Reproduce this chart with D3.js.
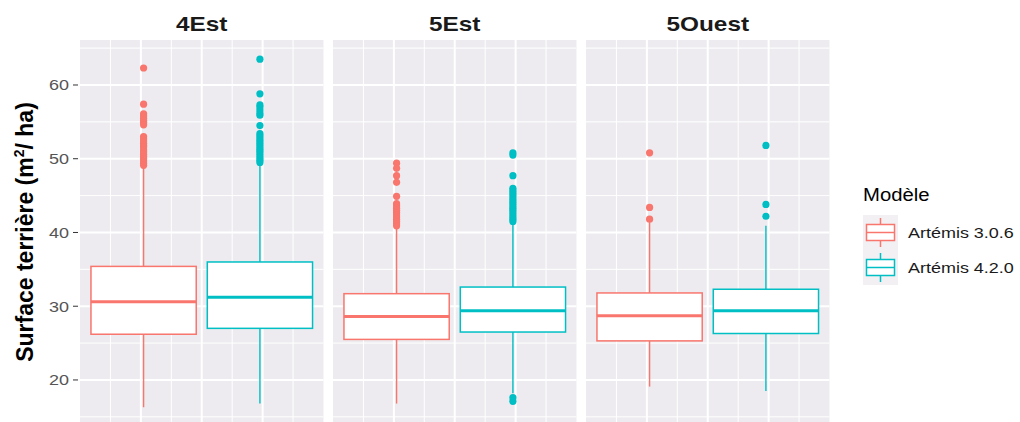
<!DOCTYPE html>
<html>
<head>
<meta charset="utf-8">
<script src="https://cdn.jsdelivr.net/npm/d3@7"></script>
<style>
  body { margin: 0; background: #ffffff; }
  text { font-family: "Liberation Sans", Arial, sans-serif; }
</style>
</head>
<body>
<div class="container"></div>
<script>
var regions = ['4Est', '5Est', '5Ouest'];
var models = ['Artémis 3.0.6', 'Artémis 4.2.0'];
var yTicks = [20, 30, 40, 50, 60];
var yMinorTicks = [15, 25, 35, 45, 55, 65];

// Artémis 3.0.6, one value per region
var lower306 = [16.3, 16.8, 19.1];
var q1_306 = [26.2, 25.5, 25.3];
var median306 = [30.6, 28.6, 28.7];
var q3_306 = [35.4, 31.7, 31.8];
var upper306 = [49.0, 40.6, 41.4];
var outliers306 = [
    [62.3, 57.4, 56.1, 55.8, 55.5, 55.2, 54.9, 54.6, 53.0, 52.7, 52.4, 52.1, 51.8, 51.6,
     51.2, 50.9, 50.6, 50.3, 50.0, 49.7, 49.4, 49.1],
    [49.4, 48.7, 47.7, 46.8, 44.9, 43.9, 43.6, 43.3, 43.0, 42.7, 42.4, 42.1, 41.8, 41.5, 41.2, 40.9],
    [50.8, 43.4, 41.8]
];

// Artémis 4.2.0, one value per region
var lower420 = [16.8, 18.2, 18.5];
var q1_420 = [27.0, 26.5, 26.3];
var median420 = [31.2, 29.4, 29.4];
var q3_420 = [36.0, 32.6, 32.3];
var upper420 = [49.4, 41.3, 40.9];
var outliers420 = [
    [63.5, 58.8, 57.3, 57.0, 56.6, 56.2, 55.9, 54.5, 53.4, 53.1, 52.8, 52.5, 52.2, 51.9,
     51.6, 51.3, 51.0, 50.7, 50.4, 50.1, 49.8, 49.5],
    [50.8, 50.5, 47.7, 46.0, 45.7, 45.4, 45.1, 44.8, 44.5, 44.2, 43.9, 43.6, 43.3, 43.0,
     42.7, 42.4, 42.1, 41.8, 41.5, 17.6, 17.1],
    [51.8, 43.8, 42.2]
];

var colors = ['#F8766D', '#00BFC4'];
var PANEL_BG = '#EDEBEF';
var STRETCH = 1.16;

var buildBoxes = function () {
    var stats = [
        {lower: lower306, q1: q1_306, median: median306, q3: q3_306, upper: upper306, out: outliers306},
        {lower: lower420, q1: q1_420, median: median420, q3: q3_420, upper: upper420, out: outliers420}
    ];
    var boxes = [];
    regions.forEach(function (region, i) {
        models.forEach(function (model, j) {
            var s = stats[j];
            boxes.push({
                region: region, model: model, color: colors[j],
                lower: s.lower[i], q1: s.q1[i], median: s.median[i], q3: s.q3[i], upper: s.upper[i],
                outliers: s.out[i]
            });
        });
    });
    return boxes;
};

var drawChart = function () {
    const WIDTH = 1020;
    const HEIGHT = 422;
    const TOP = 40;

    var svg = d3.select('.container').append('svg')
        .attr('width', WIDTH)
        .attr('height', HEIGHT);

    var panelScale = d3.scaleBand()
        .domain(regions)
        .range([80, 829.5])
        .paddingInner(0.0375)
        .paddingOuter(0);

    var xScale = d3.scaleLinear().domain([-2, 2]).range([0, panelScale.bandwidth()]);
    var modelScale = d3.scaleBand().domain(models).range([-1.82, 1.82]).paddingInner(0.095);
    var yScale = d3.scaleLinear().domain([14.3, 66.1]).range([HEIGHT, TOP]);

    var boxes = buildBoxes();

    var panels = svg.selectAll('g.panel')
        .data(regions)
        .enter()
        .append('g')
        .classed('panel', true)
        .attr('transform', function (d) { return 'translate(' + panelScale(d) + ',0)'; });

    panels.append('rect')
        .attr('x', 0)
        .attr('y', TOP)
        .attr('width', panelScale.bandwidth())
        .attr('height', HEIGHT - TOP)
        .attr('fill', PANEL_BG);

    // grid lines
    panels.selectAll('line.hminor')
        .data(yMinorTicks)
        .enter()
        .append('line')
        .attr('x1', 0).attr('x2', panelScale.bandwidth())
        .attr('y1', function (d) { return yScale(d); })
        .attr('y2', function (d) { return yScale(d); })
        .attr('stroke', '#fff').attr('stroke-width', 1);

    panels.selectAll('line.hmajor')
        .data(yTicks)
        .enter()
        .append('line')
        .attr('x1', 0).attr('x2', panelScale.bandwidth())
        .attr('y1', function (d) { return yScale(d); })
        .attr('y2', function (d) { return yScale(d); })
        .attr('stroke', '#fff').attr('stroke-width', 2);

    panels.selectAll('line.vminor')
        .data([-1.5, -0.5, 0.5, 1.5])
        .enter()
        .append('line')
        .attr('x1', function (d) { return xScale(d); })
        .attr('x2', function (d) { return xScale(d); })
        .attr('y1', TOP).attr('y2', HEIGHT)
        .attr('stroke', '#fff').attr('stroke-width', 1);

    panels.selectAll('line.vmajor')
        .data([-1, 0, 1])
        .enter()
        .append('line')
        .attr('x1', function (d) { return xScale(d); })
        .attr('x2', function (d) { return xScale(d); })
        .attr('y1', TOP).attr('y2', HEIGHT)
        .attr('stroke', '#fff').attr('stroke-width', 2);

    // strip titles
    panels.append('text')
        .attr('transform', 'translate(' + (panelScale.bandwidth() / 2) + ',31) scale(' + STRETCH + ',1)')
        .attr('text-anchor', 'middle')
        .attr('font-size', 21)
        .attr('font-weight', 'bold')
        .attr('fill', '#1a1a1a')
        .text(function (d) { return d; });

    // boxes
    var g = svg.selectAll('g.box')
        .data(boxes)
        .enter()
        .append('g')
        .classed('box', true)
        .attr('transform', function (d) {
            var cx = panelScale(d.region) + xScale(modelScale(d.model) + modelScale.bandwidth() / 2);
            return 'translate(' + cx + ',0)';
        });

    var half = (xScale(modelScale.bandwidth()) - xScale(0)) / 2;

    g.append('line')
        .attr('x1', 0).attr('x2', 0)
        .attr('y1', function (d) { return yScale(d.upper); })
        .attr('y2', function (d) { return yScale(d.q3); })
        .attr('stroke', function (d) { return d.color; })
        .attr('stroke-width', 1.4);

    g.append('line')
        .attr('x1', 0).attr('x2', 0)
        .attr('y1', function (d) { return yScale(d.q1); })
        .attr('y2', function (d) { return yScale(d.lower); })
        .attr('stroke', function (d) { return d.color; })
        .attr('stroke-width', 1.4);

    g.append('rect')
        .attr('x', -half)
        .attr('width', half * 2)
        .attr('y', function (d) { return yScale(d.q3); })
        .attr('height', function (d) { return yScale(d.q1) - yScale(d.q3); })
        .attr('fill', '#fff')
        .attr('stroke', function (d) { return d.color; })
        .attr('stroke-width', 1.5);

    g.append('line')
        .attr('x1', -half).attr('x2', half)
        .attr('y1', function (d) { return yScale(d.median); })
        .attr('y2', function (d) { return yScale(d.median); })
        .attr('stroke', function (d) { return d.color; })
        .attr('stroke-width', 3);

    g.selectAll('circle')
        .data(function (d) { return d.outliers.map(function (v) { return {v: v, color: d.color}; }); })
        .enter()
        .append('circle')
        .attr('cx', 0)
        .attr('cy', function (d) { return yScale(d.v); })
        .attr('r', 3.6)
        .attr('fill', function (d) { return d.color; });

    // y axis
    var axis = svg.append('g');
    axis.selectAll('line')
        .data(yTicks)
        .enter()
        .append('line')
        .attr('x1', 73).attr('x2', 78)
        .attr('y1', function (d) { return yScale(d); })
        .attr('y2', function (d) { return yScale(d); })
        .attr('stroke', '#333').attr('stroke-width', 1);

    axis.selectAll('text')
        .data(yTicks)
        .enter()
        .append('text')
        .attr('transform', function (d) { return 'translate(69,' + (yScale(d) + 5.5) + ') scale(' + STRETCH + ',1)'; })
        .attr('text-anchor', 'end')
        .attr('font-size', 15.5)
        .attr('fill', '#555')
        .text(function (d) { return d; });

    var title = svg.append('text')
        .attr('transform', 'translate(33,232) rotate(-90)')
        .attr('text-anchor', 'middle')
        .attr('font-size', 23)
        .attr('font-weight', 'bold')
        .attr('fill', '#000');
    title.append('tspan').text('Surface terrière (m');
    title.append('tspan').attr('font-size', 14).attr('dy', -9).text('2');
    title.append('tspan').attr('dy', 9).text('/ ha)');

    // legend
    var legend = svg.append('g').attr('transform', 'translate(863,0)');
    legend.append('text')
        .attr('transform', 'translate(0,201) scale(' + STRETCH + ',1)')
        .attr('font-size', 17.5)
        .attr('fill', '#000')
        .text('Modèle');

    var keys = legend.selectAll('g.key')
        .data(models)
        .enter()
        .append('g')
        .classed('key', true)
        .attr('transform', function (d, i) { return 'translate(0,' + (215 + i * 35) + ')'; });

    keys.append('rect')
        .attr('width', 35).attr('height', 35)
        .attr('fill', '#F2F0F3');
    keys.append('line')
        .attr('x1', 17.5).attr('x2', 17.5).attr('y1', 3).attr('y2', 32)
        .attr('stroke', function (d, i) { return colors[i]; }).attr('stroke-width', 1.5);
    keys.append('rect')
        .attr('x', 3.5).attr('y', 9.5).attr('width', 28).attr('height', 16)
        .attr('fill', '#fff')
        .attr('stroke', function (d, i) { return colors[i]; }).attr('stroke-width', 1.5);
    keys.append('line')
        .attr('x1', 3.5).attr('x2', 31.5).attr('y1', 17.5).attr('y2', 17.5)
        .attr('stroke', function (d, i) { return colors[i]; }).attr('stroke-width', 1.5);
    keys.append('text')
        .attr('transform', 'translate(45,23) scale(' + STRETCH + ',1)')
        .attr('font-size', 15.5)
        .attr('fill', '#1a1a1a')
        .text(function (d) { return d; });
};

window.onload = drawChart;
</script>
</body>
</html>
